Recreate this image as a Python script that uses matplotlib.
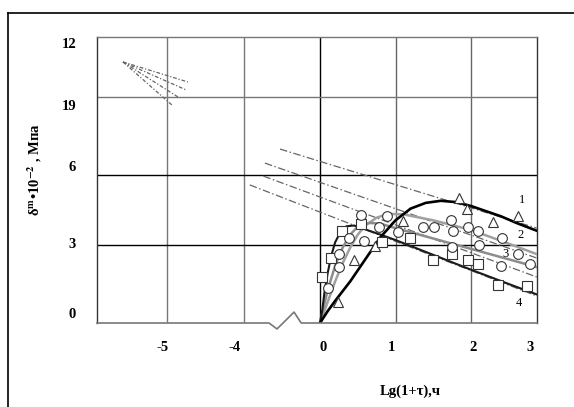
import numpy as np
import matplotlib.pyplot as plt
from matplotlib.lines import Line2D

plt.rcParams['font.family'] = ['Liberation Serif', 'DejaVu Serif']
plt.rcParams['mathtext.fontset'] = 'stix'

# axis scale: right part is Lg(1+t); left part (-5, -4) is a compressed section
xtick_pos = [-2.09, -1.13, 0.04, 0.94, 2.03, 2.78]
xtick_lab = ["-5", "-4", "0", "1", "2", "3"]
ytick_pos = [0.38, 3.08, 6.04, 8.38, 10.77]
ytick_lab = ["0", "3", "6", "19", "12"]
xgrid = [-2.03, -1.01, 0.0, 1.0, 2.0]
xgrid_col = ["#777777", "#777777", "#000000", "#666666", "#666666"]
ygrid = [3.0, 5.69, 8.69]
ygrid_col = ["#000000", "#000000", "#777777"]

# fitted curves
c1_x = [0, 0.1, 0.2, 0.4, 0.6, 0.8, 1.0, 1.2, 1.4, 1.6, 1.8, 2.0, 2.2, 2.4, 2.6, 2.87]
c1_y = [0, 0.45, 0.85, 1.6, 2.45, 3.3, 3.95, 4.4, 4.62, 4.7, 4.65, 4.5, 4.3, 4.1, 3.85, 3.55]
c2_x = [0, 0.1, 0.2, 0.3, 0.4, 0.5, 0.6, 0.75, 0.9, 1.1, 1.5, 2.0, 2.5, 2.87]
c2_y = [0, 0.8, 1.6, 2.3, 2.9, 3.4, 3.75, 4.05, 4.2, 4.18, 3.95, 3.58, 3.05, 2.65]
c3_x = [0, 0.05, 0.1, 0.2, 0.3, 0.4, 0.5, 0.65, 0.8, 1.0, 1.5, 2.0, 2.5, 2.87]
c3_y = [0, 0.65, 1.25, 2.2, 2.9, 3.4, 3.7, 3.85, 3.82, 3.65, 3.25, 2.85, 2.45, 2.15]
c4_x = [0, 0.03, 0.06, 0.1, 0.15, 0.2, 0.27, 0.35, 0.45, 0.6, 0.8, 1.0, 1.5, 2.0, 2.5, 2.87]
c4_y = [0, 0.5, 1.2, 1.9, 2.6, 3.1, 3.5, 3.72, 3.75, 3.6, 3.4, 3.19, 2.62, 2.05, 1.5, 1.1]

# asymptotic dash-dot lines
asym_x = [[-0.53, 2.87], [-0.73, 2.87], [-0.75, 2.87], [-0.93, 2.87]]
asym_y = [[6.69, 3.65], [6.15, 2.50], [5.65, 1.77], [5.31, 1.04]]
# fan in the compressed left section
fan_x = [[-2.61, -1.75], [-2.61, -1.77], [-2.61, -1.88], [-2.61, -1.96]]
fan_y = [[10.04, 9.27], [10.04, 8.96], [10.04, 8.69], [10.04, 8.38]]

# measured points
tri_x = [0.24, 0.45, 0.73, 1.10, 1.84, 1.95, 2.29, 2.62]
tri_y = [0.81, 2.42, 2.96, 3.92, 4.81, 4.38, 3.88, 4.12]
sq_x = [0.03, 0.15, 0.29, 0.54, 0.82, 1.19, 1.50, 1.75, 1.96, 2.09, 2.36, 2.74]
sq_y = [1.77, 2.50, 3.54, 3.81, 3.12, 3.27, 2.42, 2.65, 2.42, 2.27, 1.46, 1.42]
ci_x = [0.11, 0.25, 0.25, 0.38, 0.54, 0.58, 0.78, 0.89, 1.03, 1.36, 1.51, 1.74, 1.76,
        1.75, 1.96, 2.09, 2.11, 2.41, 2.40, 2.62, 2.78]
ci_y = [1.35, 2.65, 2.15, 3.27, 4.15, 3.15, 3.69, 4.12, 3.50, 3.69, 3.69, 3.96, 3.54,
        2.92, 3.69, 3.54, 3.00, 3.27, 2.19, 2.65, 2.27]

curve_lab = ["1", "2", "3", "4"]
curve_lab_x = [2.68, 2.65, 2.46, 2.64]
curve_lab_y = [4.73, 3.38, 2.65, 0.77]

# axis break on the bottom line
break_x = [-2.954, -0.675, -0.57, -0.344, -0.25, 2.874]
break_y = [0, 0, -0.23, 0.42, 0, 0]

fig = plt.figure(figsize=(5.74, 4.07), dpi=100)
ax = fig.add_axes([97 / 574, 84 / 407, 440 / 574, 286 / 407])
ax.set_xlim(-2.954, 2.874)
ax.set_ylim(0, 11.0)

for x, c in zip(xgrid, xgrid_col):
    ax.axvline(x, color=c, lw=1.0, zorder=1)
for y, c in zip(ygrid, ygrid_col):
    ax.axhline(y, color=c, lw=1.0, zorder=1)

dd = (6, 2, 1.2, 2)
for xs, ys in zip(asym_x, asym_y):
    ax.plot(xs, ys, color="#666666", lw=0.9, dashes=dd, zorder=2)
for xs, ys in zip(fan_x, fan_y):
    ax.plot(xs, ys, color="#666666", lw=0.9, dashes=(3, 1.5, 1, 1.5), zorder=2)

ax.plot(c2_x, c2_y, color="#a0a0a0", lw=1.8, zorder=3)
ax.plot(c3_x, c3_y, color="#8c8c8c", lw=1.8, zorder=3)
ax.plot(c4_x, c4_y, color="#1a1a1a", lw=1.5, zorder=3)
ax.plot(c1_x, c1_y, color="#000000", lw=1.9, zorder=3)

mk = dict(ls="none", mfc="white", mec="#333333", mew=0.8, zorder=4)
ax.plot(tri_x, tri_y, marker="^", ms=7.5, **mk)
ax.plot(sq_x, sq_y, marker="s", ms=7, **mk)
ax.plot(ci_x, ci_y, marker="o", ms=7, **mk)

for t, x, y in zip(curve_lab, curve_lab_x, curve_lab_y):
    ax.text(x, y, t, fontsize=9, ha="center", va="center", zorder=5)

ax.plot(break_x, break_y, color="#777777", lw=1.2, clip_on=False, zorder=5)

ax.spines["bottom"].set_visible(False)
ax.spines["top"].set_color("#777777")
ax.spines["left"].set_color("#333333")
ax.spines["right"].set_color("#333333")
for s in ax.spines.values():
    s.set_linewidth(1.0)

ax.set_xticks(xtick_pos, xtick_lab)
ax.set_yticks(ytick_pos, ytick_lab)
ax.tick_params(axis="x", length=0, pad=13, labelsize=10.5)
ax.tick_params(axis="y", length=0, pad=15, labelsize=10.5)
for lab in ax.get_xticklabels() + ax.get_yticklabels():
    lab.set_fontweight("bold")

fig.text(35 / 574, 1 - 170 / 407, r"δ$^{\mathbf{m}}$•10$^{\mathbf{-2}}$ , Мпа",
         rotation=90, ha="center", va="center", fontsize=10.5, fontweight="bold")
fig.text(410 / 574, 1 - 391 / 407, "Lg(1+τ),ч", ha="center", va="center",
         fontsize=10.5, fontweight="bold")

# outer frame (top and left only)
fig.add_artist(Line2D([8 / 574, 1.0], [1 - 13 / 407, 1 - 13 / 407], color="black", lw=1.2))
fig.add_artist(Line2D([8 / 574, 8 / 574], [0, 1 - 13 / 407], color="black", lw=1.2))

fig.savefig("out.png", dpi=100)
